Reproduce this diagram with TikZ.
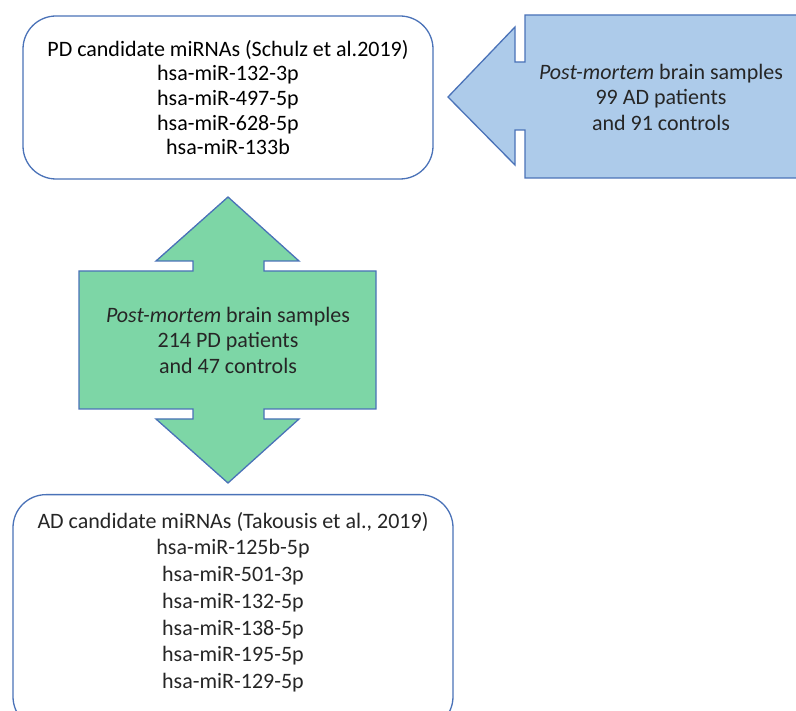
\documentclass[tikz,border=0pt]{standalone}
\usepackage{fontspec}
\setmainfont{Carlito}
\usetikzlibrary{positioning, calc}
\definecolor{edgeblue}{HTML}{4A72B8}
\definecolor{fillblue}{HTML}{ADCBEA}
\definecolor{fillgreen}{HTML}{7DD6A6}

\begin{document}
\begin{tikzpicture}[x=1pt, y=-1pt, font=\fontsize{22}{25.5}\selectfont,
    mirbox/.style={draw=edgeblue, line width=1.3pt, rounded corners=33pt,
                   fill=white, align=center, inner sep=0pt},
    sampleshape/.style={draw=edgeblue, line width=1.3pt, line join=miter},
    sampletext/.style={align=center, text=black!85}]
  \clip (0,0) rectangle (796,711);
  \fill[white] (0,0) rectangle (796,711);
  % candidate boxes
  \node[mirbox, minimum width=410, minimum height=163,
        font=\fontsize{22}{24.7}\selectfont] (pdbox) at (228,97.5)
    {PD candidate miRNAs (Schulz et al.2019)\\ hsa-miR-132-3p\\
     hsa-miR-497-5p\\ hsa-miR-628-5p\\ hsa-miR-133b};
  \node[mirbox, minimum width=440, minimum height=235, anchor=north]
    (adbox) at (233,494) {};
  \node[sampletext, anchor=north, inner sep=0pt,
        font=\fontsize{22}{26.7}\selectfont] (adlist)
    at ([yshift=-18]adbox.north)
    {AD candidate miRNAs (Takousis et al., 2019)\\ hsa-miR-125b-5p\\
     hsa-miR-501-3p\\ hsa-miR-132-5p\\ hsa-miR-138-5p\\
     hsa-miR-195-5p\\ hsa-miR-129-5p};
  % AD samples (left arrow)
  \draw[sampleshape, fill=fillblue] (525,15) -- (800,15) -- (800,178)
    -- (525,178) -- (525,130) -- (515,130) -- (515,165) -- (448,97)
    -- (515,27) -- (515,62) -- (525,62) -- cycle;
  \node[sampletext] (adsamples) at (661,97)
    {\textit{Post-mortem} brain samples\\ 99 AD patients\\ and 91 controls};
  % PD samples (up-down arrow)
  \draw[sampleshape, fill=fillgreen] (79,271) -- (193,271) -- (193,261)
    -- (156,261) -- (228,197) -- (299,261) -- (264,261) -- (264,271)
    -- (376,271) -- (376,409) -- (264,409) -- (264,419) -- (299,419)
    -- (228,483) -- (156,419) -- (193,419) -- (193,409) -- (79,409) -- cycle;
  \node[sampletext] (pdsamples) at (228,340)
    {\textit{Post-mortem} brain samples\\ 214 PD patients\\ and 47 controls};
\end{tikzpicture}
\end{document}
